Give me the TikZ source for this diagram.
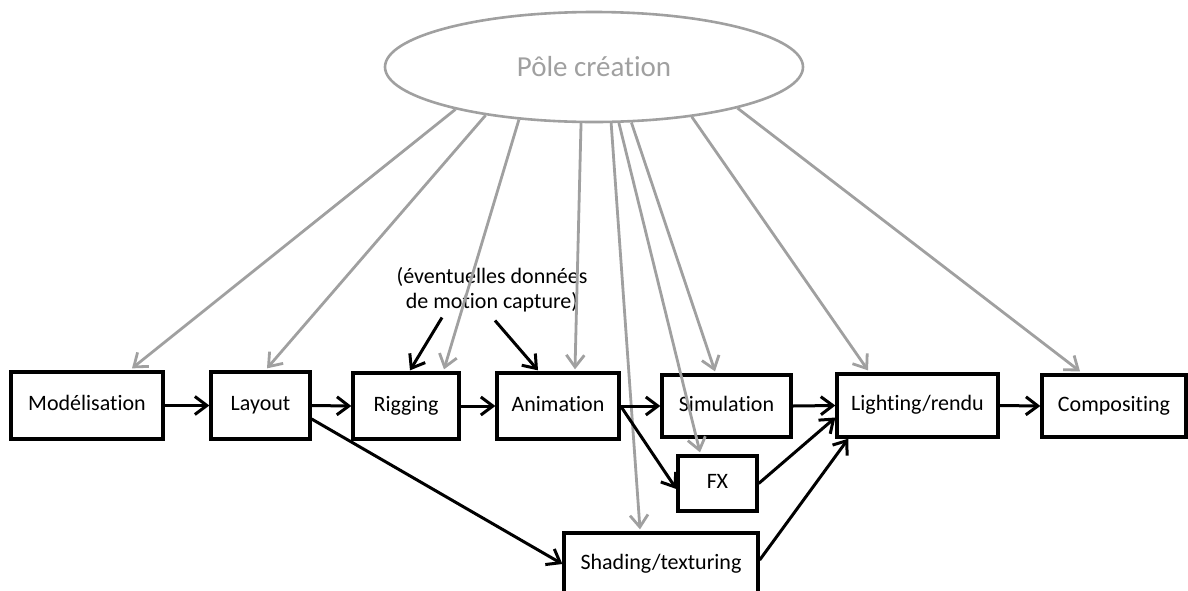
\documentclass[tikz,border=0pt]{standalone}
\usepackage{fontspec}
\setmainfont{Carlito}[Ligatures={NoCommon,NoContextual},RawFeature={-liga;-clig;-dlig;-calt}]
\usetikzlibrary{arrows.meta,shapes.geometric}
\definecolor{polegray}{RGB}{160,160,160}
\begin{document}
\begin{tikzpicture}[x=1pt,y=-1pt,
  box/.style={draw, line width=3.3pt, rectangle, font=\fontsize{22}{24}\selectfont, inner sep=0pt,
              text height=14pt, text depth=4pt, anchor=center},
  blk/.style={line width=3pt, -{Straight Barb[length=12pt,width=18pt]}},
  gry/.style={draw=polegray, line width=2.8pt, -{Straight Barb[length=12pt,width=18pt]}}]
\useasboundingbox (0,0) rectangle (1188,590);
\clip (0,0) rectangle (1188,590);
% pole
\node[ellipse, draw=polegray, line width=2.6pt, minimum width=418pt, minimum height=110pt, inner sep=0pt,
      text=polegray, font=\fontsize{29}{32}\selectfont] (pole) at (594,67) {Pôle création};
% boxes
\node[box, minimum width=152pt, minimum height=67pt] (mod) at (87,405.5) {Modélisation};
\node[box, minimum width=99pt, minimum height=67pt] (lay) at (260.5,405.5) {Layout};
\node[box, minimum width=106pt, minimum height=66pt] (rig) at (406,406) {Rigging};
\node[box, minimum width=122pt, minimum height=66pt] (ani) at (558,406) {Animation};
\node[box, minimum width=129pt, minimum height=62pt] (sim) at (726.5,406) {Simulation};
\node[box, minimum width=161pt, minimum height=63pt] (lig) at (917.5,405.5) {Lighting/rendu};
\node[box, minimum width=144pt, minimum height=62pt] (com) at (1114,406) {Compositing};
\node[box, minimum width=79pt, minimum height=55pt] (fx) at (717.5,483.5) {FX};
\node[box, minimum width=194pt, minimum height=62pt] (sha) at (661,564) {Shading/texturing};
% motion capture note
\node[align=center, font=\fontsize{22}{25}\selectfont, inner sep=0pt] (mc) at (492,290) {(éventuelles données\\de motion capture)};
% gray arrows from pole
\draw[gry] (pole.197.8) -- ([xshift=45pt,yshift=2pt]mod.north);
\draw[gry] (pole.204.6) -- ([xshift=6.5pt,yshift=2pt]lay.north);
\draw[gry] (pole.215) -- ([xshift=38pt,yshift=2pt]rig.north);
\draw[gry] (pole.257.2) -- ([xshift=17pt,yshift=2pt]ani.north);
\draw[gry] (pole.287.8) -- ([xshift=-21pt,yshift=2pt]sha.north);
\draw[gry] (pole.294.9) -- ([xshift=-17.5pt,yshift=2pt]fx.north);
\draw[gry] (pole.304.9) -- ([xshift=-11.5pt,yshift=2pt]sim.north);
\draw[gry] (pole.333) -- ([xshift=-49.5pt,yshift=2pt]lig.north);
\draw[gry] (pole.344.5) -- ([xshift=-34pt,yshift=2pt]com.north);
% black arrows
\draw[blk] (mod.east) -- (lay.west);
\draw[blk] (lay.east) -- (rig.west);
\draw[blk] (rig.east) -- (ani.west);
\draw[blk] (ani.east) -- (sim.west);
\draw[blk] (sim.east) -- (lig.west);
\draw[blk] (lig.east) -- (com.west);
\draw[blk] ([yshift=-13.5pt]lay.east) -- (sha.west);
\draw[blk] (ani.east) -- ([yshift=-5.5pt]fx.west);
\draw[blk] (fx.east) -- ([yshift=-12pt]lig.west);
\draw[blk] ([yshift=4pt]sha.east) -- ([xshift=13pt]lig.south west);
\draw[blk] ([xshift=-50pt,yshift=-5pt]mc.south) -- ([xshift=4pt,yshift=1pt]rig.north);
\draw[blk] ([xshift=3pt,yshift=-8pt]mc.south) -- ([xshift=-20pt,yshift=1pt]ani.north);
\end{tikzpicture}
\end{document}
